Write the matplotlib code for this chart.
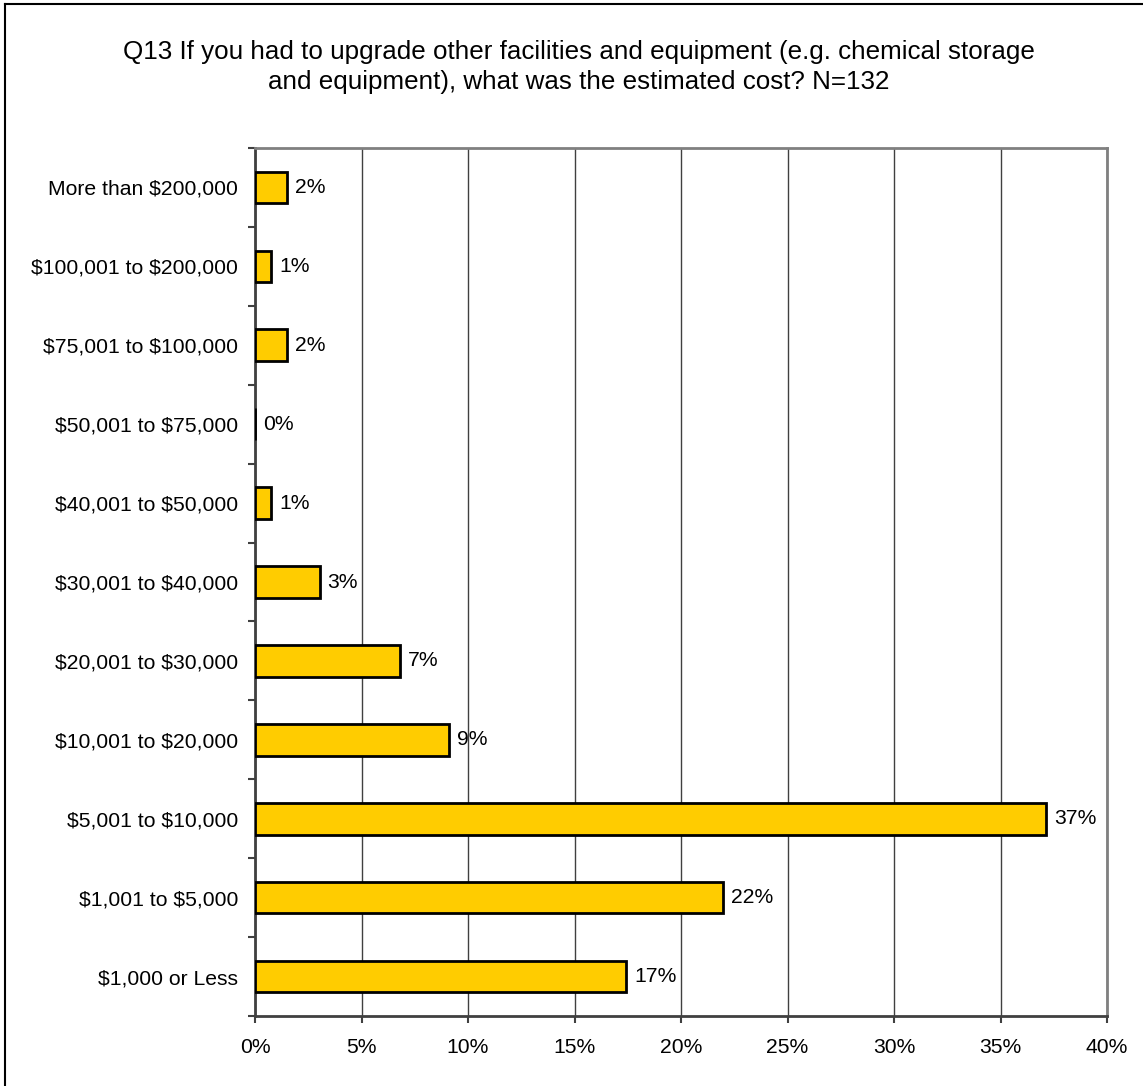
import numpy as np
import matplotlib.pyplot as plt
from matplotlib.lines import Line2D
from matplotlib.ticker import FixedLocator, PercentFormatter

plt.rcParams['font.family'] = ['Liberation Sans', 'DejaVu Sans']
plt.rcParams['text.parse_math'] = False

N = 132
categories = ['$1,000 or Less', '$1,001 to $5,000', '$5,001 to $10,000',
              '$10,001 to $20,000', '$20,001 to $30,000', '$30,001 to $40,000',
              '$40,001 to $50,000', '$50,001 to $75,000', '$75,001 to $100,000',
              '$100,001 to $200,000', 'More than $200,000']
counts = [23, 29, 49, 12, 9, 4, 1, 0, 2, 1, 2]
pct = [100 * c / N for c in counts]

fs = 15.2

fig = plt.figure(figsize=(11.43, 10.86), dpi=100)
ax = fig.add_axes([255 / 1143, 1 - 1016 / 1086, (1107 - 255) / 1143, (1016 - 148) / 1086])

y = np.arange(len(categories))
ax.barh(y, pct, height=0.4, color='#FFCC00', edgecolor='black', linewidth=2, zorder=3)
for yi, p in zip(y, pct):
    ax.text(p + 0.38, yi, f'{p:.0f}%', va='center', ha='left', fontsize=fs)

ax.set_xlim(0, 40)
ax.set_ylim(-0.5, len(categories) - 0.5)
ax.set_xticks(np.arange(0, 41, 5))
ax.xaxis.set_major_formatter(PercentFormatter(decimals=0))
ax.set_yticks(y)
ax.set_yticklabels(categories)
ax.yaxis.set_minor_locator(FixedLocator(np.arange(-0.5, len(categories), 1)))
ax.tick_params(axis='y', which='major', length=0, pad=12, labelsize=fs)
ax.tick_params(axis='y', which='minor', length=5, width=1.5, color='#404040')
ax.tick_params(axis='x', length=5, width=1.5, color='#404040', pad=11, labelsize=fs)

ax.grid(axis='x', color='#404040', linewidth=1, zorder=0)
for side in ['left', 'bottom']:
    ax.spines[side].set_color('#404040')
    ax.spines[side].set_linewidth(2)
for side in ['top', 'right']:
    ax.spines[side].set_color('#808080')
    ax.spines[side].set_linewidth(2)

fig.text(579 / 1143, 1 - 89 / 1086,
         'Q13 If you had to upgrade other facilities and equipment (e.g. chemical storage\n'
         'and equipment), what was the estimated cost? N=132',
         ha='center', va='baseline', fontsize=18.7, linespacing=1.32)

# outer frame
fig.add_artist(Line2D([4.5 / 1143, 4.5 / 1143], [0, 1 - 3.5 / 1086],
                      transform=fig.transFigure, color='black', linewidth=1.5))
fig.add_artist(Line2D([4.5 / 1143, 1], [1 - 3.5 / 1086, 1 - 3.5 / 1086],
                      transform=fig.transFigure, color='black', linewidth=1.5))

fig.savefig('out.png', dpi=100, facecolor='white')
